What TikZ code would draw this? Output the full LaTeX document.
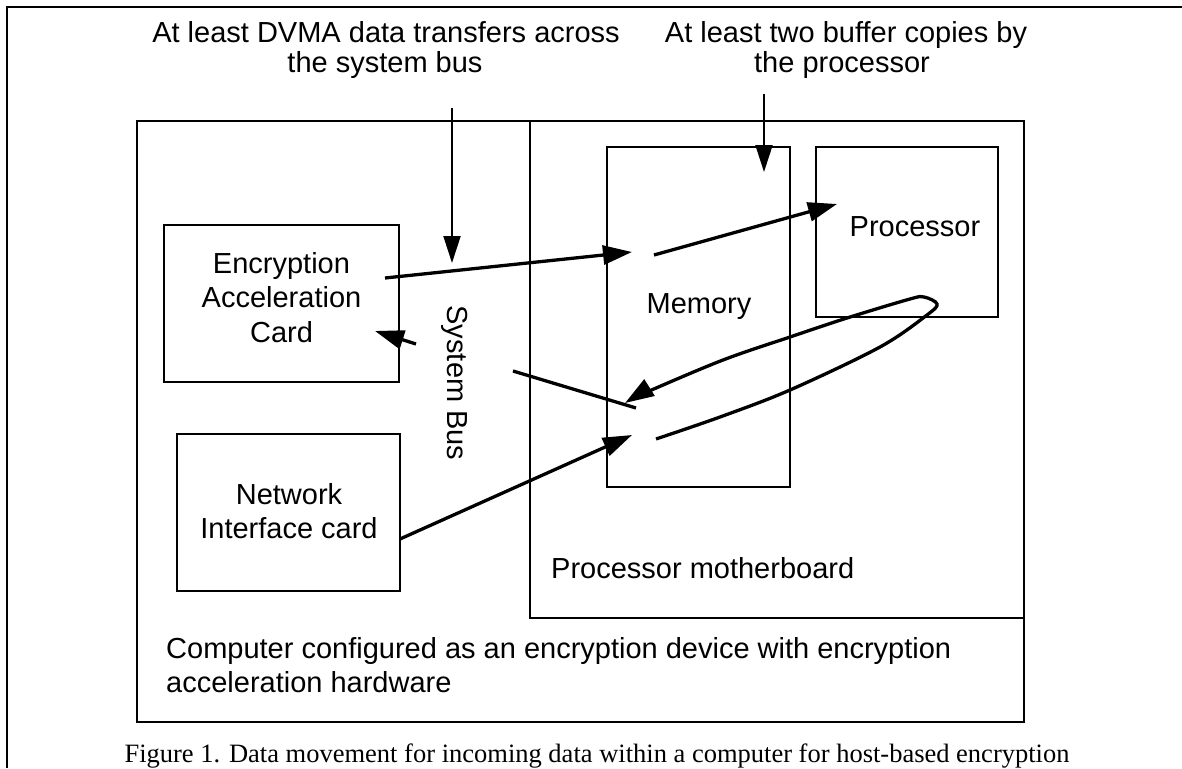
\documentclass[tikz,border=0pt]{standalone}
\usepackage{fontspec}
\setmainfont{Liberation Sans}
\newfontfamily\capfont{Liberation Serif}
\usetikzlibrary{arrows.meta}
\begin{document}
\begin{tikzpicture}[x=1pt,y=-1pt,
  box/.style={draw, line width=2pt, inner sep=0pt, rectangle},
  txt/.style={inner sep=0pt, anchor=base, font=\fontsize{29}{34}\selectfont},
  txtl/.style={txt, anchor=base west},
  thinarrow/.style={line width=2pt, -{Triangle[length=27pt,width=17pt]}},
  thickarrow/.style={line width=3.3pt, -{Triangle[length=29pt,width=19pt]}},
  thickline/.style={line width=3.3pt},
]
\useasboundingbox (0,0) rectangle (1182,768);
% outer frame
\draw[line width=2.5pt] (7,768) -- (7,7) -- (1182,7);

% boxes
\node[box, minimum width=887pt, minimum height=601pt] (comp) at (580.5,421.5) {};
\node[box, minimum width=494pt, minimum height=497pt] (mobo) at (777,369.5) {};
\node[box, minimum width=183pt, minimum height=340pt] (mem) at (698.5,317) {};
\node[box, minimum width=182pt, minimum height=170pt] (proc) at (907,232) {};
\node[box, minimum width=235pt, minimum height=157pt] (enc) at (281.5,303.5) {};
\node[box, minimum width=223pt, minimum height=157pt] (nic) at (288.5,512.5) {};

% texts
\node[txt] (t1a) at (386,42) {At least DVMA data transfers across};
\node[txt] (t1b) at (385,73) {the system bus};
\node[txt] (t2a) at (846,42) {At least two buffer copies by};
\node[txt] (t2b) at (842,73) {the processor};
\node[txt] (enc1) at (281.5,273) {Encryption};
\node[txt] (enc2) at (281.5,307) {Acceleration};
\node[txt] (enc3) at (281.5,342) {Card};
\node[txt] (memt) at (699,313) {Memory};
\node[txt] (proct) at (915,236) {Processor};
\node[inner sep=0pt, font=\fontsize{29}{34}\selectfont, rotate=-90] (bus) at (455,383) {System Bus};
\node[txt] (nic1) at (289,504) {Network};
\node[txt] (nic2) at (289,538) {Interface card};
\node[txtl] (mobot) at (551,578) {Processor motherboard};
\node[txtl] (comp1) at (166,658) {Computer configured as an encryption device with encryption};
\node[txtl] (comp2) at (166,692) {acceleration hardware};
\node[inner sep=0pt, anchor=base, font=\capfont\fontsize{26.5}{30}\selectfont] (cap) at (597,762) {Figure 1. Data movement for incoming data within a computer for host-based encryption};

% connector end points
\coordinate (a1s) at (452,108);  \coordinate (a1e) at (452,263);
\coordinate (a2s) at (764,94);   \coordinate (a2e) at (764,172);
\coordinate (e2ms) at (385,278); \coordinate (e2me) at (632,252);
\coordinate (m2ps) at (654,255); \coordinate (m2pe) at (837,204);
\coordinate (b2es) at (416,344); \coordinate (b2ee) at (375,331);
\coordinate (b2ms) at (513,371); \coordinate (b2me) at (636,408);
\coordinate (n2ms) at (400,539); \coordinate (n2me) at (632,435);

% connectors
\draw[thinarrow] (a1s) -- (a1e);
\draw[thinarrow] (a2s) -- (a2e);
\draw[thickarrow] (e2ms) -- (e2me);
\draw[thickarrow] (m2ps) -- (m2pe);
\draw[thickarrow] (b2es) -- (b2ee);
\draw[thickline] (b2ms) -- (b2me);
\draw[thickarrow] (n2ms) -- (n2me);
\draw[thickarrow] plot[smooth, tension=0.55] coordinates {(656,439) (720,417) (790,390) (880,347) (927,315) (937,304) (924,297) (910,299) (847,318) (790,337) (723,360) (647,392) (625,403)};
\end{tikzpicture}
\end{document}
